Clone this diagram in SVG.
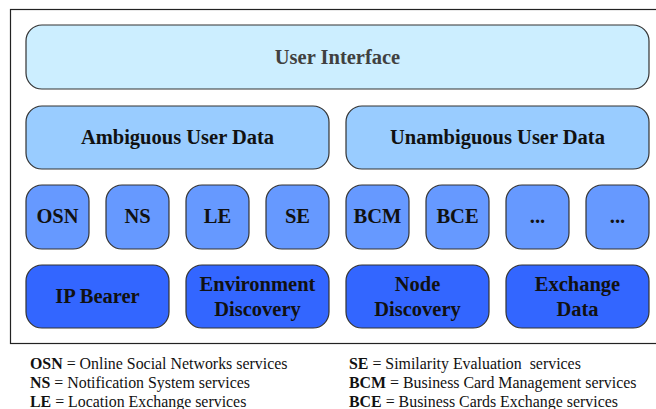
<svg xmlns="http://www.w3.org/2000/svg" width="656" height="409" viewBox="0 0 656 409">
  <style>
    .box { stroke: #333; stroke-width: 1.2; }
    .l1 { fill: #CCEEFF; }
    .l2 { fill: #99CCFF; }
    .l3 { fill: #6699FF; }
    .l4 { fill: #3366FF; }
    .lbl { font-family: "Liberation Serif", "Times New Roman", serif; font-weight: bold; font-size: 20.5px; text-anchor: middle; fill: #111; }
    .ui { fill: #404040; }
    .leg { font-family: "Liberation Serif", "Times New Roman", serif; font-size: 15.9px; fill: #111; }
    .leg tspan.b { font-weight: bold; }
  </style>
  <!-- outer frame (right edge runs past the canvas) -->
  <rect x="10.5" y="9.5" width="660" height="334" fill="#fff" stroke="#222" stroke-width="1.2"/>

  <g id="user-interface">
    <rect class="box l1" x="26" y="25" width="623" height="64" rx="16"/>
    <text class="lbl ui" x="337.5" y="64">User Interface</text>
  </g>

  <g id="ambiguous-user-data">
    <rect class="box l2" x="26" y="106" width="303" height="63" rx="16"/>
    <text class="lbl" x="177.5" y="144">Ambiguous User Data</text>
  </g>
  <g id="unambiguous-user-data">
    <rect class="box l2" x="346" y="106" width="303" height="63" rx="16"/>
    <text class="lbl" x="497.5" y="144">Unambiguous User Data</text>
  </g>

  <g id="osn"><rect class="box l3" x="26" y="185" width="63" height="64" rx="16"/><text class="lbl" x="57.5" y="223">OSN</text></g>
  <g id="ns"><rect class="box l3" x="106" y="185" width="63" height="64" rx="16"/><text class="lbl" x="137.5" y="223">NS</text></g>
  <g id="le"><rect class="box l3" x="186" y="185" width="63" height="64" rx="16"/><text class="lbl" x="217.5" y="223">LE</text></g>
  <g id="se"><rect class="box l3" x="266" y="185" width="63" height="64" rx="16"/><text class="lbl" x="297.5" y="223">SE</text></g>
  <g id="bcm"><rect class="box l3" x="346" y="185" width="63" height="64" rx="16"/><text class="lbl" x="377.5" y="223">BCM</text></g>
  <g id="bce"><rect class="box l3" x="426" y="185" width="63" height="64" rx="16"/><text class="lbl" x="457.5" y="223">BCE</text></g>
  <g id="more-1"><rect class="box l3" x="506" y="185" width="63" height="64" rx="16"/><text class="lbl" x="537.5" y="223">...</text></g>
  <g id="more-2"><rect class="box l3" x="586" y="185" width="63" height="64" rx="16"/><text class="lbl" x="617.5" y="223">...</text></g>

  <g id="ip-bearer"><rect class="box l4" x="26" y="265" width="143" height="63" rx="16"/><text class="lbl" x="97.5" y="303">IP Bearer</text></g>
  <g id="environment-discovery"><rect class="box l4" x="186" y="265" width="143" height="63" rx="16"/><text class="lbl" x="257.5" y="291">Environment</text><text class="lbl" x="257.5" y="316">Discovery</text></g>
  <g id="node-discovery"><rect class="box l4" x="346" y="265" width="143" height="63" rx="16"/><text class="lbl" x="417.5" y="291">Node</text><text class="lbl" x="417.5" y="316">Discovery</text></g>
  <g id="exchange-data"><rect class="box l4" x="506" y="265" width="143" height="63" rx="16"/><text class="lbl" x="577.5" y="291">Exchange</text><text class="lbl" x="577.5" y="316">Data</text></g>

  <g id="connectors"></g>

  <g id="legend">
    <text class="leg" x="30" y="369"><tspan class="b">OSN</tspan> = Online Social Networks services</text>
    <text class="leg" x="30" y="388"><tspan class="b">NS</tspan> = Notification System services</text>
    <text class="leg" x="30" y="407"><tspan class="b">LE</tspan> = Location Exchange services</text>
    <text class="leg" x="349" y="369" xml:space="preserve"><tspan class="b">SE</tspan> = Similarity Evaluation  services</text>
    <text class="leg" x="349" y="388"><tspan class="b">BCM</tspan> = Business Card Management services</text>
    <text class="leg" x="349" y="407"><tspan class="b">BCE</tspan> = Business Cards Exchange services</text>
  </g>
</svg>
